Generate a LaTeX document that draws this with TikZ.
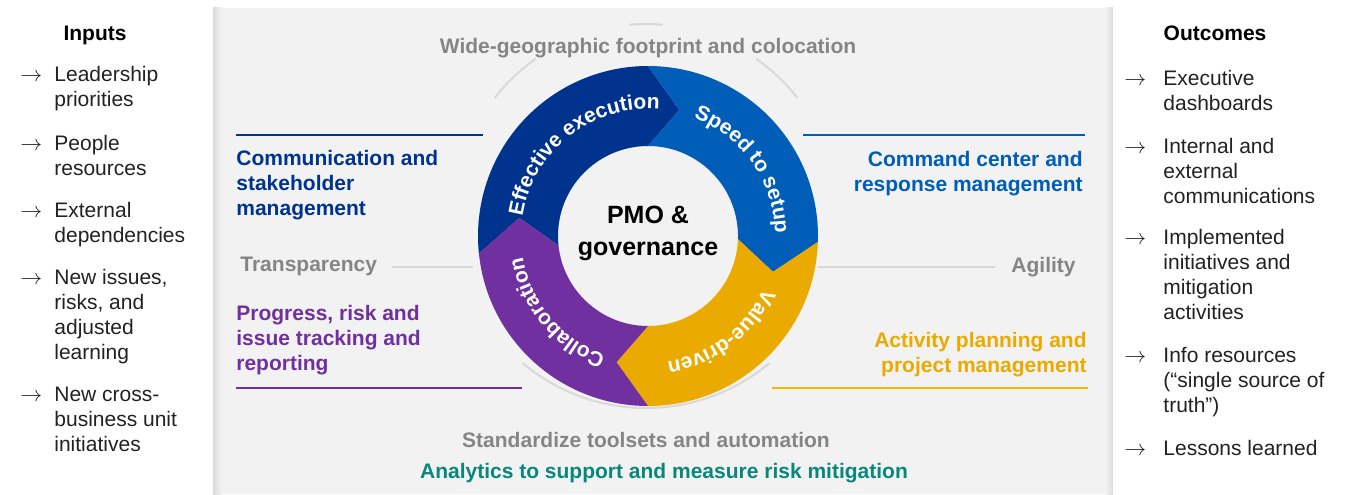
\documentclass[tikz,border=0pt]{standalone}
\usepackage{fontspec}
\setmainfont{Liberation Sans}
\usetikzlibrary{decorations.text}
\definecolor{dblue}{HTML}{00338D}
\definecolor{mblue}{HTML}{005EB8}
\definecolor{kgold}{HTML}{EAAA00}
\definecolor{kgoldline}{HTML}{F8BA00}
\definecolor{kpurple}{HTML}{7030A0}
\definecolor{kteal}{HTML}{0A877C}
\definecolor{kgraytext}{HTML}{858585}
\definecolor{kline}{HTML}{D9D9D9}
\definecolor{kpanel}{HTML}{F2F2F2}
\definecolor{kedge}{HTML}{DCDCDC}
\definecolor{ktxt}{HTML}{222222}
\newcommand{\ringfont}{\fontsize{10.5}{12}\selectfont\bfseries\color{white}}
\begin{document}
\begin{tikzpicture}[x=0.5pt,y=0.5pt,
  listitem/.style={font=\fontsize{10.5}{12.5}\selectfont, align=left, anchor=base west, inner sep=0pt, text=ktxt},
  listarrow/.style={font=\fontsize{10.5}{12.5}\selectfont, anchor=base west, inner sep=0pt, text=ktxt},
  heading/.style={font=\fontsize{10.5}{12.5}\selectfont\bfseries, anchor=base, inner sep=0pt, text=black},
  graylabel/.style={font=\fontsize{10.5}{12.5}\selectfont\bfseries, inner sep=0pt, text=kgraytext},
  colorlabel/.style={font=\fontsize{10.5}{12.5}\selectfont\bfseries, inner sep=0pt},
  rule/.style={line width=1.35pt},
  grayrule/.style={line width=1.4pt, kline},
  ringtext/.style={decorate, decoration={text along path, text align=center, text={|\ringfont|#1}}}
]
\useasboundingbox (0,0) rectangle (1347,494);
\fill[white] (0,0) rectangle (1347,494);
% panel
\fill[kpanel] (213,0) rectangle (1113,486);
\shade[left color=kedge, right color=kpanel] (213,0) rectangle (222,486);
\shade[left color=kpanel, right color=kedge] (1105,0) rectangle (1113,486);

% gray circle arcs
\begin{scope}[shift={(646,278)}]
  \draw[kline, line width=1pt] (38:192) arc[start angle=38, end angle=55, radius=192];
  \draw[kline, line width=1pt] (85:192) arc[start angle=85, end angle=95, radius=192];
  \draw[kline, line width=1pt] (125:192) arc[start angle=125, end angle=142, radius=192];
  \draw[kline, line width=1pt] (-130:192) arc[start angle=-130, end angle=-50, radius=192];
\end{scope}

% ring segments
\begin{scope}[shift={(648,258)}]
  \fill[dblue] (186:170) arc[start angle=186, end angle=90, radius=170] -- (76:130) -- (90:90)
     arc[start angle=90, end angle=186, radius=90] -- (172:130) -- cycle;
  \fill[mblue] (90:170) arc[start angle=90, end angle=-2, radius=170] -- (-16:130) -- (-2:90)
     arc[start angle=-2, end angle=90, radius=90] -- (76:130) -- cycle;
  \fill[kgold] (-2:170) arc[start angle=-2, end angle=-90, radius=170] -- (-104:130) -- (-90:90)
     arc[start angle=-90, end angle=-2, radius=90] -- (-16:130) -- cycle;
  \fill[kpurple] (-90:170) arc[start angle=-90, end angle=-174, radius=170] -- (172:130) -- (-174:90)
     arc[start angle=-174, end angle=-90, radius=90] -- (-104:130) -- cycle;
  \path[ringtext={Effective execution}] (198:127) arc[start angle=198, end angle=58, radius=127];
  \path[ringtext={Speed to setup}] (105:127) arc[start angle=105, end angle=-35, radius=127];
  \path[ringtext={Value-driven}] (17:127) arc[start angle=17, end angle=-123, radius=127];
  \path[ringtext={Collaboration}] (-70:127) arc[start angle=-70, end angle=-210, radius=127];
\end{scope}

\node[font=\fontsize{12.5}{16}\selectfont\bfseries, align=center, anchor=base, inner sep=0pt] (pmo) at (648,239) {PMO \&\\governance};

% top / bottom labels
\node[graylabel, anchor=base] (wide) at (648,441) {Wide-geographic footprint and colocation};
\node[graylabel, anchor=base] (std) at (646,47) {Standardize toolsets and automation};
\node[colorlabel, anchor=base, text=kteal] (analytics) at (664,16) {Analytics to support and measure risk mitigation};

% side labels
\node[graylabel, anchor=base west] (transp) at (240,223) {Transparency};
\node[graylabel, anchor=base east] (agility) at (1076,222) {Agility};
\draw[grayrule] (392,227) -- (473,227);
\draw[grayrule] (818,227) -- (995,227);

\draw[rule, dblue] (236,359) -- (483,359);
\node[colorlabel, text=dblue, align=left, anchor=base west] (comm) at (236,279) {Communication and\\stakeholder\\management};
\draw[rule, mblue] (803,359) -- (1085,359);
\node[colorlabel, text=mblue, align=right, anchor=base east] (cmd) at (1083,303) {Command center and\\response management};
\node[colorlabel, text=kpurple, align=left, anchor=base west] (prog) at (236,124) {Progress, risk and\\issue tracking and\\reporting};
\draw[rule, kpurple] (236,106) -- (522,106);
\node[colorlabel, text=kgold, align=right, anchor=base east] (act) at (1087,122) {Activity planning and\\project management};
\draw[rule, kgoldline] (772,106) -- (1088,106);

% Inputs
\node[heading] (inputs) at (95,453.5) {Inputs};
\node[listarrow] (la1) at (20,412.5) {$\rightarrow$};
\node[listitem] (li1) at (54,387.5) {Leadership\\priorities};
\node[listarrow] (la2) at (20,344) {$\rightarrow$};
\node[listitem] (li2) at (54,319) {People\\resources};
\node[listarrow] (la3) at (20,277) {$\rightarrow$};
\node[listitem] (li3) at (54,252) {External\\dependencies};
\node[listarrow] (la4) at (20,209.5) {$\rightarrow$};
\node[listitem] (li4) at (54,134.5) {New issues,\\risks, and\\adjusted\\learning};
\node[listarrow] (la5) at (20,93) {$\rightarrow$};
\node[listitem] (li5) at (54,43) {New cross-\\business unit\\initiatives};

% Outcomes
\node[heading] (outcomes) at (1215,453) {Outcomes};
\node[listarrow] (ra1) at (1124,409) {$\rightarrow$};
\node[listitem] (ri1) at (1163,384) {Executive\\dashboards};
\node[listarrow] (ra2) at (1124,341) {$\rightarrow$};
\node[listitem] (ri2) at (1163,291) {Internal and\\external\\communications};
\node[listarrow] (ra3) at (1124,249.5) {$\rightarrow$};
\node[listitem] (ri3) at (1163,174.5) {Implemented\\initiatives and\\mitigation\\activities};
\node[listarrow] (ra4) at (1124,131.5) {$\rightarrow$};
\node[listitem] (ri4) at (1163,81.5) {Info resources\\(“single source of\\truth”)};
\node[listarrow] (ra5) at (1124,39) {$\rightarrow$};
\node[listitem] (ri5) at (1163,39) {Lessons learned};
\end{tikzpicture}
\end{document}
